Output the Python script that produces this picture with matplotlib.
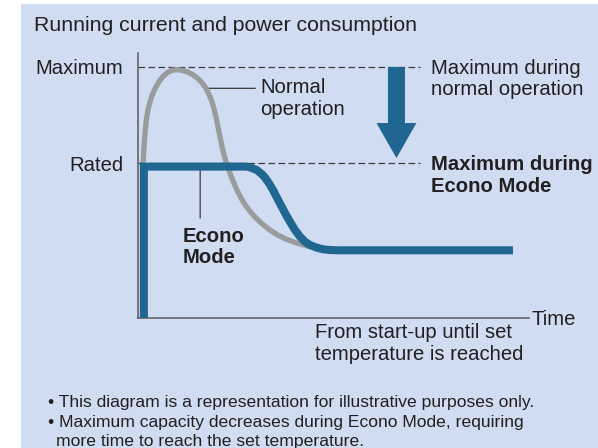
import matplotlib.pyplot as plt
from matplotlib.patches import Rectangle, FancyArrow

W, H = 598, 448
plt.rcParams['font.family'] = ['Liberation Sans', 'DejaVu Sans']

# current levels (rated = 1.0)
rated = 1.0
maximum = 1.62

# time (0-100) vs running current, normal operation (grey)
normal_t = [1.2, 1.36, 1.53, 1.79, 2.12, 2.63, 3.32, 4.17, 5.19, 6.32, 7.60,
            8.87, 10.15, 11.43, 12.71, 13.99, 15.27, 16.37, 17.39, 18.24, 18.93,
            19.51, 20.13, 20.79, 21.41, 22.0, 22.51, 23.53, 24.55, 25.58, 26.60,
            27.62, 28.90, 30.18, 31.71, 33.50, 35.55, 37.85, 40.41, 43.22,
            46.29, 49.62]
normal_i = [1.0, 1.019, 1.105, 1.192, 1.277, 1.353, 1.417, 1.471, 1.518, 1.557,
            1.585, 1.600, 1.602, 1.598, 1.587, 1.570, 1.546, 1.518, 1.482, 1.439,
            1.395, 1.342, 1.277, 1.192, 1.116, 1.052, 1.008, 0.934, 0.869, 0.812,
            0.763, 0.722, 0.680, 0.645, 0.608, 0.572, 0.538, 0.509, 0.485, 0.465,
            0.450, 0.439]

# Econo Mode (blue)
econo_t = [1.5, 1.5, 27.80, 28.64, 30.36, 31.64, 32.48, 33.58, 34.60, 35.63,
           36.75, 37.78, 38.87, 40.15, 41.43, 42.71, 43.99, 45.70, 47.39, 49.10,
           50.82, 95.9]
econo_i = [0.0, 0.977, 0.977, 0.972, 0.955, 0.929, 0.906, 0.866, 0.823, 0.772,
           0.718, 0.669, 0.621, 0.568, 0.525, 0.492, 0.471, 0.454, 0.443, 0.439,
           0.437, 0.437]

title = "Running current and power consumption"
notes = ["\u2022 This diagram is a representation for illustrative purposes only.",
         "\u2022 Maximum capacity decreases during Econo Mode, requiring",
         "more time to reach the set temperature."]

blue = '#1f6690'
grey = '#9a9b9d'
ink = '#231f20'
panel = '#d0dcf1'
fs = 14.6

fig = plt.figure(figsize=(W / 100, H / 100), dpi=100)
fig.patches.append(Rectangle((21 / W, 0), 1, 1 - 4 / H, transform=fig.transFigure,
                             facecolor=panel, edgecolor='none', zorder=-5))


def ftext(x, y, s, **kw):
    # place text by pixel position (x, baseline y)
    kw.setdefault('fontsize', fs)
    kw.setdefault('color', ink)
    fig.text(x / W, 1 - y / H, s, va='baseline', **kw)


ax = fig.add_axes([138 / W, 1 - 318 / H, 391 / W, 265 / H])
ax.set_facecolor('none')
ax.set_xlim(0, 100)
ax.set_ylim(0, 1.71)
for s in ['top', 'right']:
    ax.spines[s].set_visible(False)
for s in ['left', 'bottom']:
    ax.spines[s].set_color('#5a5a5c')
    ax.spines[s].set_linewidth(1.1)
ax.set_xticks([])
ax.set_yticks([rated, maximum], ['Rated', 'Maximum'])
ax.tick_params(axis='y', length=0, pad=10.5, labelsize=fs, labelcolor=ink)

# reference levels
for lvl in [maximum, rated]:
    ax.plot([0, 72.1], [lvl, lvl], color='#3a3a3c', lw=0.9,
            dashes=(5.3, 2.7), zorder=1)

# leader lines
k = normal_t.index(17.39)
ax.annotate('', xy=(normal_t[k], normal_i[k]), xytext=(30, normal_i[k]),
            arrowprops=dict(arrowstyle='-', color='#3a3a3c', lw=0.9,
                            shrinkA=0, shrinkB=0), zorder=2)
ax.annotate('', xy=(15.9, econo_i[1]), xytext=(15.9, 0.645),
            arrowprops=dict(arrowstyle='-', color='#3a3a3c', lw=0.9,
                            shrinkA=0, shrinkB=0), zorder=2)

ax.plot(normal_t, normal_i, color=grey, lw=3.8, solid_capstyle='butt',
        solid_joinstyle='round', zorder=3)
ax.plot(econo_t, econo_i, color=blue, lw=5.8, solid_capstyle='butt',
        solid_joinstyle='miter', zorder=4)

# arrow from maximum down to rated
ax.add_patch(FancyArrow(66.1, maximum, 0, 1.032 - maximum, width=4.35,
                        head_width=10.2, head_length=0.226,
                        length_includes_head=True, color=blue, lw=0, zorder=4))

ftext(34, 31, title, fontsize=15.3)
ftext(431, 74, "Maximum during")
ftext(431, 95, "normal operation")
ftext(431, 170, "Maximum during", fontweight='bold')
ftext(431, 192, "Econo Mode", fontweight='bold')
ftext(260, 93, "Normal")
ftext(260, 115, "operation")
ftext(183, 242, "Econo", fontweight='bold')
ftext(183, 263, "Mode", fontweight='bold')
ftext(531, 325, "Time")
ftext(315, 338, "From start-up until set")
ftext(315, 360, "temperature is reached")
for i, line in enumerate(notes):
    ftext(48 if line.startswith("\u2022") else 56, 407 + 19.5 * i, line,
          fontsize=12.6)

fig.savefig('out.png', dpi=100)
